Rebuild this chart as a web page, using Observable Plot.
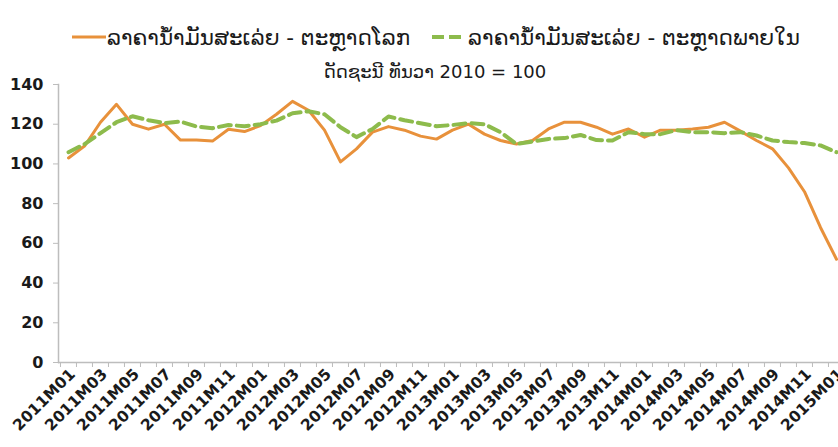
<!DOCTYPE html>
<html>
<head>
<meta charset="utf-8">
<script src="https://cdn.jsdelivr.net/npm/d3@7"></script>
<script src="https://cdn.jsdelivr.net/npm/@observablehq/plot@0.6"></script>
<style>
  body { margin: 0; background: #fff; font-family: "DejaVu Sans", sans-serif; color: #1a1a1a; }
  #wrap { width: 838px; height: 447px; overflow: hidden; }
  #header { position: relative; width: 838px; height: 74px; }
  #legend { position: absolute; left: 0; top: 22px; width: 838px; height: 30px; display: flex; align-items: center; justify-content: center; font-size: 21.5px; white-space: nowrap; padding-left: 34px; box-sizing: border-box; }
  #legend .item { display: flex; align-items: center; }
  #subtitle { position: absolute; left: 0; top: 61px; width: 838px; height: 22px; line-height: 22px; text-align: center; font-size: 18px; padding-left: 32px; box-sizing: border-box; }
  svg { display: block; }
</style>
</head>
<body>
<div id="wrap">
  <div id="header">
    <div id="legend"></div>
    <div id="subtitle"></div>
  </div>
  <div id="chart"></div>
</div>
<script>
const months = [
  "2011M01","2011M02","2011M03","2011M04","2011M05","2011M06","2011M07","2011M08","2011M09","2011M10","2011M11","2011M12",
  "2012M01","2012M02","2012M03","2012M04","2012M05","2012M06","2012M07","2012M08","2012M09","2012M10","2012M11","2012M12",
  "2013M01","2013M02","2013M03","2013M04","2013M05","2013M06","2013M07","2013M08","2013M09","2013M10","2013M11","2013M12",
  "2014M01","2014M02","2014M03","2014M04","2014M05","2014M06","2014M07","2014M08","2014M09","2014M10","2014M11","2014M12",
  "2015M01"
];
const worldPrice = [
  103, 109, 121, 130, 120, 117.5, 120, 112, 112, 111.5, 117.5, 116.3,
  119.3, 125, 131.5, 127, 117, 101, 107.6, 116, 118.8, 117, 114, 112.5,
  117, 120, 115, 111.8, 110, 111.8, 117.6, 121, 121, 118.5, 115, 117.6,
  113.5, 117, 117, 117.6, 118.5, 121, 116.5, 111.8, 107.6, 98, 86, 68,
  52
];
const domesticPrice = [
  105.9, 110, 115.5, 121, 124, 122, 120.6, 121.3, 118.8, 118, 119.6, 119,
  120, 121.8, 125.5, 126.5, 125, 118.5, 113.5, 117.6, 123.9, 122, 120.5, 119,
  119.6, 120.6, 120, 116, 110, 111.3, 112.6, 113, 114.6, 112, 111.8, 116,
  115, 115, 117, 116, 116, 115.5, 116, 114.3, 111.8, 111, 110.5, 109.3,
  105.9
];
const xTickLabels = [
  "2011M01","2011M03","2011M05","2011M07","2011M09","2011M11",
  "2012M01","2012M03","2012M05","2012M07","2012M09","2012M11",
  "2013M01","2013M03","2013M05","2013M07","2013M09","2013M11",
  "2014M01","2014M03","2014M05","2014M07","2014M09","2014M11",
  "2015M01"
];
const yTicks = [0, 20, 40, 60, 80, 100, 120, 140];
const seriesNames = ["ລາຄານ້ຳມັນສະເລ່ຍ - ຕະຫຼາດໂລກ", "ລາຄານ້ຳມັນສະເລ່ຍ - ຕະຫຼາດພາຍໃນ"];
const subtitleText = "ດັດຊະນີ ທັນວາ 2010 = 100";

const ORANGE = "#E8913B";
const GREEN = "#8DBB4C";
const AXIS = "#bdbdbd";

const data = months.map((m, i) => ({month: m, world: worldPrice[i], domestic: domesticPrice[i]}));

// header
const legend = document.getElementById("legend");
legend.innerHTML =
  `<span class="item"><svg width="34" height="8" style="margin-right:1px"><line x1="0" y1="4" x2="34" y2="4" stroke="${ORANGE}" stroke-width="3"/></svg>${seriesNames[0]}</span>` +
  `<span class="item" style="margin-left:22px"><svg width="30" height="8"><line x1="0" y1="4" x2="30" y2="4" stroke="${GREEN}" stroke-width="4" stroke-dasharray="12,5"/></svg><span style="margin-left:6px">${seriesNames[1]}</span></span>`;
document.getElementById("subtitle").textContent = subtitleText;

const W = 838, H = 373;
const mL = 58, mR = -7;
const step = (W - mL - mR) / months.length;

const chart = Plot.plot({
  width: W,
  height: H,
  marginTop: 10,
  marginBottom: 85,
  marginLeft: mL,
  marginRight: mR,
  style: {fontFamily: "DejaVu Sans, sans-serif", color: "#1a1a1a", background: "#fff"},
  x: {type: "point", domain: months, padding: 0.5, align: 0.5, label: null, axis: null},
  y: {domain: [0, 140], label: null, axis: null},
  marks: [
    Plot.axisY({ticks: yTicks, tickSize: 5, tickPadding: 10, stroke: AXIS, fontWeight: "bold", fontSize: 16, label: null}),
    Plot.axisX({ticks: months, tickSize: 5, dx: -step / 2, stroke: AXIS, tickFormat: () => "", label: null}),
    Plot.axisX({ticks: xTickLabels, tickSize: 0, tickPadding: 9, dx: 4, tickRotate: -45, fontSize: 15.5, fontWeight: "bold", label: null}),
    Plot.frame({anchor: "left", stroke: AXIS, strokeWidth: 1.5}),
    Plot.ruleY([0], {stroke: AXIS, strokeWidth: 1.5}),
    Plot.line(data, {x: "month", y: "world", stroke: ORANGE, strokeWidth: 3}),
    Plot.line(data, {x: "month", y: "domestic", stroke: GREEN, strokeWidth: 4, strokeDasharray: "12,6"})
  ]
});
document.getElementById("chart").appendChild(chart);
</script>
</body>
</html>
